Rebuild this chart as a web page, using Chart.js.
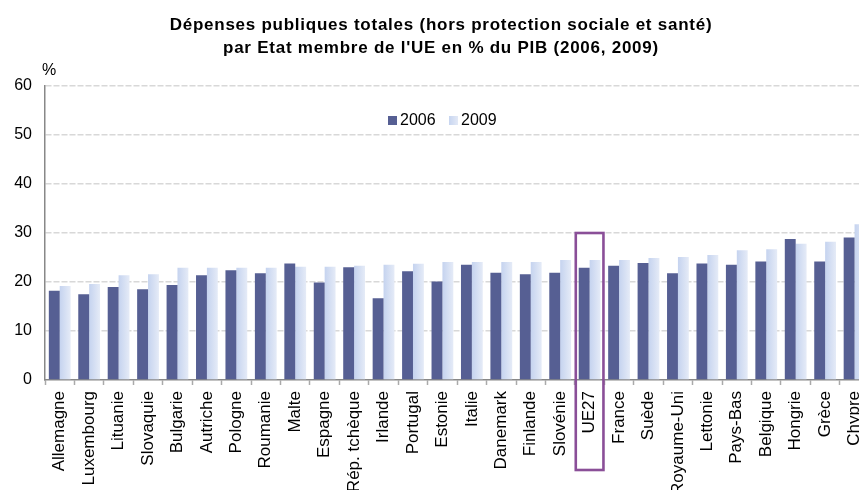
<!DOCTYPE html>
<html>
<head>
<meta charset="utf-8">
<script src="https://cdn.jsdelivr.net/npm/chart.js@4/dist/chart.umd.min.js"></script>
<style>
  html, body { margin: 0; padding: 0; background: #fff; overflow: hidden; }
  body { width: 859px; height: 490px; position: relative; font-family: "Liberation Sans", Arial, Helvetica, sans-serif; }
  #wrap { position: absolute; left: 0; top: 0; width: 881px; height: 490px; }
  #title { position: absolute; left: 0; width: 882px; top: 13px; text-align: center; font-weight: bold; font-size: 17px; letter-spacing: 0.75px; line-height: 23px; color: #000; }
  #unit { position: absolute; left: 42px; top: 61px; font-size: 16px; color: #000; }
  .leg { position: absolute; top: 111px; font-size: 16px; color: #000; line-height: 18px; }
  .leg i { display: inline-block; width: 9px; height: 9px; margin-right: 3px; vertical-align: 0px; }
</style>
</head>
<body>
<div id="wrap"><canvas id="chart"></canvas></div>
<div id="title">Dépenses publiques totales (hors protection sociale et santé)<br>par Etat membre de l'UE en % du PIB (2006, 2009)</div>
<div id="unit">%</div>
<div class="leg" style="left:388px"><i style="background:#565f93"></i>2006</div>
<div class="leg" style="left:449px"><i style="background:linear-gradient(90deg,#c7d5f0,#e3e9f6)"></i>2009</div>
<script>
const countries = [
  "Allemagne", "Luxembourg", "Lituanie", "Slovaquie", "Bulgarie", "Autriche", "Pologne",
  "Roumanie", "Malte", "Espagne", "Rép. tchèque", "Irlande", "Portugal", "Estonie", "Italie",
  "Danemark", "Finlande", "Slovénie", "UE27", "France", "Suède", "Royaume-Uni", "Lettonie",
  "Pays-Bas", "Belgique", "Hongrie", "Grèce", "Chypre"
];
const values2006 = [
  18.2, 17.5, 19.0, 18.5, 19.4, 21.4, 22.4, 21.8, 23.8, 19.9, 23.0, 16.7, 22.2, 20.1,
  23.5, 21.9, 21.6, 21.9, 22.9, 23.3, 23.9, 21.8, 23.8, 23.5, 24.2, 28.8, 24.2, 29.1
];
const values2009 = [
  19.2, 19.6, 21.4, 21.6, 22.9, 22.9, 22.9, 22.9, 23.1, 23.1, 23.3, 23.5, 23.7, 24.1,
  24.1, 24.1, 24.1, 24.5, 24.5, 24.5, 24.9, 25.1, 25.5, 26.5, 26.7, 27.8, 28.2, 31.8
];
const yTicks = [0, 10, 20, 30, 40, 50, 60];
const highlighted = "UE27";
const highlightTop = 30;
const catPct = 0.74;

// light bars: horizontal gradient across each bar, like the original
function lightFill(ctx) {
  const x = ctx.chart.scales.x;
  if (!x || ctx.type !== "data" || !x.width) return "#cfdaf1";
  const cw = x.width / countries.length;
  const left = x.getPixelForValue(ctx.dataIndex);
  const g = ctx.chart.ctx.createLinearGradient(left, 0, left + cw * catPct / 2, 0);
  g.addColorStop(0, "#c5d3ef");
  g.addColorStop(1, "#e5ebf7");
  return g;
}

const highlightBox = {
  id: "highlightBox",
  afterDraw(c) {
    const x = c.scales.x, y = c.scales.y;
    const i = countries.indexOf(highlighted);
    const cx = x.getPixelForValue(i);
    const half = x.width / countries.length * 0.47;
    const top = y.getPixelForValue(highlightTop);
    const ctx = c.ctx;
    ctx.save();
    ctx.strokeStyle = "#8a4f98";
    ctx.lineWidth = 2.6;
    ctx.strokeRect(cx - half, top, half * 2, y.bottom + 90 - top);
    ctx.restore();
  }
};

new Chart(document.getElementById("chart"), {
  type: "bar",
  data: {
    labels: countries,
    datasets: [
      { label: "2006", data: values2006, backgroundColor: "#565f93" },
      { label: "2009", data: values2009, backgroundColor: lightFill },
    ],
  },
  options: {
    responsive: true,
    maintainAspectRatio: false,
    animation: false,
    datasets: { bar: { categoryPercentage: catPct, barPercentage: 1 } },
    layout: { padding: { top: 86, right: 2, left: 0, bottom: 0 } },
    plugins: { legend: { display: false }, tooltip: { enabled: false } },
    scales: {
      x: {
        afterFit: (s) => { s.height = 110; },
        grid: { drawOnChartArea: false, drawTicks: true, tickLength: 5, tickColor: "#aaa", tickWidth: 1.5 },
        border: { display: true, color: "#888", width: 1.5 },
        ticks: {
          autoSkip: false, maxRotation: 90, minRotation: 90, padding: 6,
          color: "#000", font: { family: "'Liberation Sans', Arial, sans-serif", size: 17 },
        },
      },
      y: {
        min: 0, max: 60,
        afterFit: (s) => { s.width = 45; },
        afterBuildTicks: (s) => { s.ticks = yTicks.map((v) => ({ value: v })); },
        grid: {
          drawTicks: false, lineWidth: 1.6,
          color: (ctx) => (ctx.tick && ctx.tick.value === 0 ? "rgba(0,0,0,0)" : "#d8d8d8"),
        },
        border: { display: true, color: "#888", width: 1.5, dash: [6, 2] },
        ticks: {
          padding: 13, color: "#000",
          font: { family: "'Liberation Sans', Arial, sans-serif", size: 16 },
        },
      },
    },
  },
  plugins: [highlightBox],
});
</script>
</body>
</html>
